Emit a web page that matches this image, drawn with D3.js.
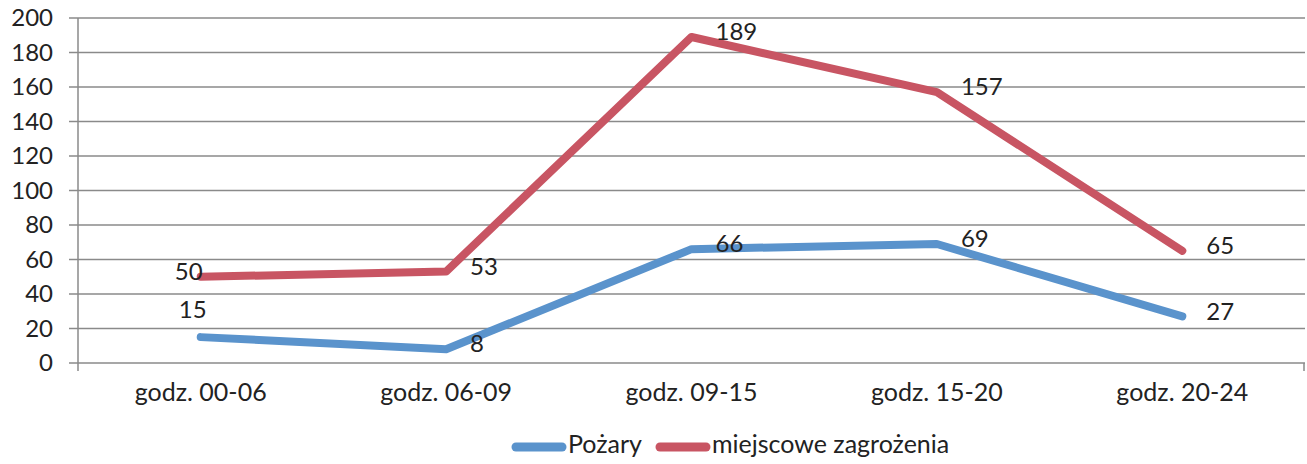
<!DOCTYPE html>
<html>
<head>
<meta charset="utf-8">
<script src="https://cdn.jsdelivr.net/npm/d3@7"></script>
<style>
  body { margin: 0; background: #fff; }
  svg text { font-family: Lato, "DejaVu Sans", sans-serif; fill: #222; }
</style>
</head>
<body>
<svg id="chart"></svg>
<script>
// dane z wykresu
const categories = ["godz. 00-06", "godz. 06-09", "godz. 09-15", "godz. 15-20", "godz. 20-24"];
const pozary = [15, 8, 66, 69, 27];
const zagrozenia = [50, 53, 189, 157, 65];
const yTicks = [0, 20, 40, 60, 80, 100, 120, 140, 160, 180, 200];
const seriesNames = ["Pożary", "miejscowe zagrożenia"];
// gdzie stoi etykieta przy punkcie
const pozaryPos = ["above", "right", "right", "right", "right"];
const zagrozeniaPos = ["left", "right", "right", "right", "right"];

const width = 1307, height = 464;
const margin = { top: 18, right: 2, bottom: 101, left: 78 };

const svg = d3.select("#chart").attr("width", width).attr("height", height);

const x = d3.scaleBand()
  .domain(categories)
  .range([margin.left, width - margin.right]);

const y = d3.scaleLinear()
  .domain([0, 200])
  .range([height - margin.bottom, margin.top]);

const cx = (d) => x(d) + x.bandwidth() / 2;

// siatka
svg.append("g")
  .selectAll("line")
  .data(yTicks)
  .join("line")
  .attr("x1", margin.left - 9)
  .attr("x2", width - margin.right)
  .attr("y1", (d) => y(d))
  .attr("y2", (d) => y(d))
  .attr("stroke", "#8a8a8a")
  .attr("stroke-width", 1.5);

// oś Y
const yAxis = svg.append("g")
  .attr("transform", `translate(${margin.left},0)`)
  .call(d3.axisLeft(y).tickValues(yTicks).tickSize(0).tickPadding(25));
yAxis.select(".domain").remove();
yAxis.selectAll("text").attr("font-size", 24).attr("fill", "#222");

svg.append("line")
  .attr("x1", margin.left).attr("x2", margin.left)
  .attr("y1", y(200)).attr("y2", y(0) + 8)
  .attr("stroke", "#8a8a8a").attr("stroke-width", 1.5);
svg.append("line")
  .attr("x1", width - margin.right - 1).attr("x2", width - margin.right - 1)
  .attr("y1", y(0)).attr("y2", y(0) + 8)
  .attr("stroke", "#8a8a8a").attr("stroke-width", 1.5);

// oś X
const xAxis = svg.append("g")
  .attr("transform", `translate(0,${y(0)})`)
  .call(d3.axisBottom(x).tickSize(0).tickPadding(20));
xAxis.select(".domain").remove();
xAxis.selectAll("text").attr("font-size", 25).attr("fill", "#222");

// linie
const series = [
  { name: seriesNames[0], values: pozary, pos: pozaryPos, color: "#5a93cc" },
  { name: seriesNames[1], values: zagrozenia, pos: zagrozeniaPos, color: "#c85563" },
];

const line = d3.line()
  .x((d, i) => cx(categories[i]))
  .y((d) => y(d));

series.forEach((s) => {
  svg.append("path")
    .datum(s.values)
    .attr("d", line)
    .attr("fill", "none")
    .attr("stroke", s.color)
    .attr("stroke-width", 8)
    .attr("stroke-linejoin", "round")
    .attr("stroke-linecap", "round");
});

// etykiety danych
series.forEach((s) => {
  svg.append("g")
    .selectAll("text")
    .data(s.values)
    .join("text")
    .text((d) => d)
    .attr("font-size", 24)
    .attr("x", (d, i) => {
      const px = cx(categories[i]);
      if (s.pos[i] === "above") return px - 8;
      if (s.pos[i] === "left") return px + 2;
      return px + 24;
    })
    .attr("y", (d, i) => {
      const py = y(d);
      if (s.pos[i] === "above") return py - 25;
      return py - 3;
    })
    .attr("text-anchor", (d, i) => {
      if (s.pos[i] === "above") return "middle";
      if (s.pos[i] === "left") return "end";
      return "start";
    })
    .attr("dominant-baseline", "middle");
});

// legenda
const legend = svg.append("g").attr("transform", "translate(512,447)");
let lx = 0;
series.forEach((s) => {
  legend.append("line")
    .attr("x1", lx + 4).attr("x2", lx + 50)
    .attr("y1", 0).attr("y2", 0)
    .attr("stroke", s.color)
    .attr("stroke-width", 9)
    .attr("stroke-linecap", "round");
  const t = legend.append("text")
    .attr("x", lx + 56)
    .attr("y", 0)
    .attr("dominant-baseline", "middle")
    .attr("font-size", 25)
    .text(s.name);
  lx += 56 + t.node().getComputedTextLength() + 14;
});
</script>
</body>
</html>
